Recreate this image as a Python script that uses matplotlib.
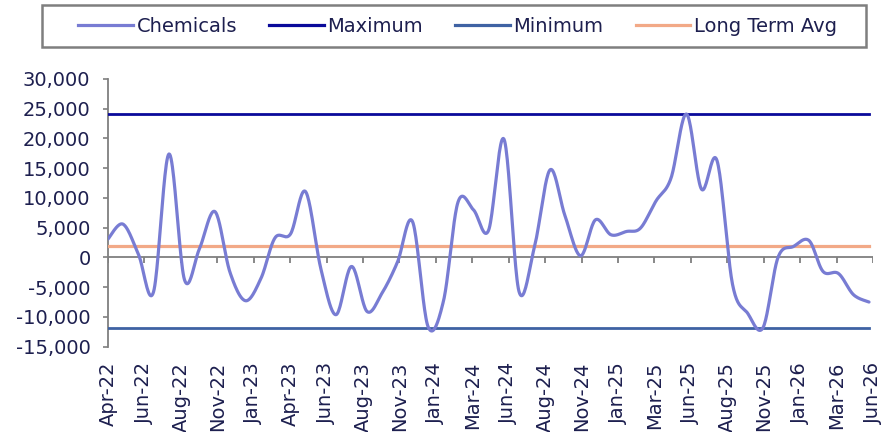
import numpy as np
import pandas as pd
import matplotlib
matplotlib.use("Agg")
import matplotlib.pyplot as plt
import matplotlib.dates as mdates
from matplotlib.lines import Line2D
from matplotlib.patches import Rectangle

# monthly series, month-end dates
months = pd.date_range("2022-03-31", periods=51, freq="ME")
chemicals = [3100, 5600, 500, -5800, 17400, -3750, 1500, 7700, -2500, -7270,
             -3500, 3300, 3950, 11080, -2000, -9620, -1510, -9070, -6000, -770,
             6040, -11600, -7300, 9300, 8000, 4530, 19880, -5710, 1800, 14720,
             7000, 290, 6330, 3810, 4370, 4940, 9500, 13330, 24100, 11480,
             16290, -4500, -9340, -11800, 0, 1850, 2850, -2350, -2700, -6260,
             -7490]
long_term_avg = 2000

tick_labels = ["Apr-22", "Jun-22", "Aug-22", "Nov-22", "Jan-23", "Apr-23",
               "Jun-23", "Aug-23", "Nov-23", "Jan-24", "Mar-24", "Jun-24",
               "Aug-24", "Nov-24", "Jan-25", "Mar-25", "Jun-25", "Aug-25",
               "Nov-25", "Jan-26", "Mar-26", "Jun-26"]

c_chem = "#787cd3"
c_max = "#0a0a9a"
c_min = "#3f62a3"
c_avg = "#f2a987"
c_axis = "#7f7f7f"
c_text = "#1d1f4f"

plt.rcParams["font.family"] = "DejaVu Sans"
plt.rcParams["axes.unicode_minus"] = False

W, H = 889, 432
fig = plt.figure(figsize=(W / 100, H / 100), dpi=100)
ax = fig.add_axes([108 / W, (H - 346.7) / H, 765 / W, 267.7 / H])

x = mdates.date2num(months)
x0 = x[0]
x1 = x0 + 1530
ax.set_xlim(x0, x1)
ax.set_ylim(-15000, 30000)


def smooth(xs, ys, n=24):
    # Catmull-Rom style bezier in screen space, like a spreadsheet smoothed line
    pts = ax.transData.transform(np.column_stack([xs, ys]))
    p = np.vstack([pts[0], pts, pts[-1]])
    t = np.linspace(0, 1, n)[:, None]
    out = []
    for i in range(1, len(p) - 2):
        a, b = p[i], p[i + 1]
        c1 = a + (p[i + 1] - p[i - 1]) / 6
        c2 = b - (p[i + 2] - p[i]) / 6
        seg = ((1 - t) ** 3) * a + 3 * ((1 - t) ** 2) * t * c1 \
            + 3 * (1 - t) * t ** 2 * c2 + t ** 3 * b
        out.append(seg if i == 1 else seg[1:])
    out = np.vstack(out)
    return ax.transData.inverted().transform(out).T


sx, sy = smooth(x, chemicals)
ax.plot(sx, sy, color=c_chem, lw=2.3, solid_capstyle="round", zorder=4)

n = len(chemicals)
ax.plot(x, [max(chemicals)] * n, color=c_max, lw=2.0, zorder=3)
ax.plot(x, [min(chemicals)] * n, color=c_min, lw=2.0, zorder=3)
ax.plot(x, [long_term_avg] * n, color=c_avg, lw=2.3, zorder=3)

# zero line with its tick marks
ticks = np.linspace(x0, x1, len(tick_labels))
ax.axhline(0, color=c_axis, lw=1.3, zorder=2)
ax.vlines(ticks, -900, 0, color=c_axis, lw=1.3, zorder=2)

ax.set_xticks(ticks)
ax.set_xticklabels(tick_labels, rotation=90, fontsize=14, color=c_text)
ax.tick_params(axis="x", length=0, pad=11)

yt = np.arange(-15000, 30001, 5000)
ax.set_yticks(yt)
ax.set_yticklabels([f"{v:,}" for v in yt], fontsize=14, color=c_text)
ax.tick_params(axis="y", length=3.6, width=1.2, color=c_axis, pad=9)

for s in ["top", "right", "bottom"]:
    ax.spines[s].set_visible(False)
ax.spines["left"].set_color(c_axis)
ax.spines["left"].set_linewidth(1.3)

# legend without its own frame, boxed by a separate rectangle
handles = [Line2D([], [], color=c_chem, lw=2.3),
           Line2D([], [], color=c_max, lw=2.3),
           Line2D([], [], color=c_min, lw=2.3),
           Line2D([], [], color=c_avg, lw=2.3)]
leg = fig.legend(handles, ["Chemicals", "Maximum", "Minimum", "Long Term Avg"],
                 loc="center", bbox_to_anchor=(457.5 / W, 1 - 26 / H), ncol=4,
                 fontsize=14, frameon=False, handlelength=2.8,
                 handletextpad=0.2, columnspacing=1.65, borderpad=0)
for t in leg.get_texts():
    t.set_color(c_text)
fig.add_artist(Rectangle((42 / W, 1 - 47 / H), 824 / W, 42 / H,
                         transform=fig.transFigure, fill=False,
                         edgecolor=c_axis, lw=1.8))

fig.savefig("out.png", dpi=100)
